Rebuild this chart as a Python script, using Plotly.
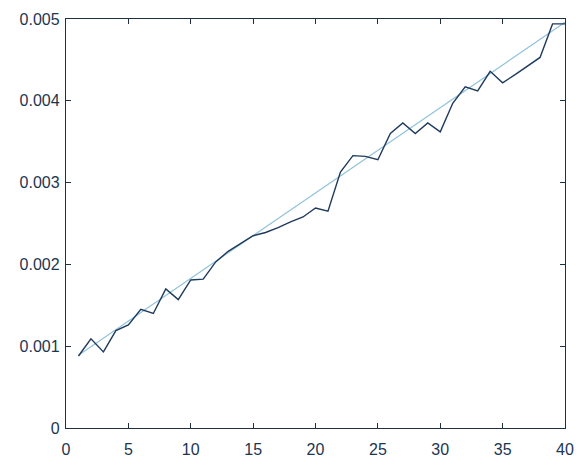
import plotly.graph_objects as go

x_vals = list(range(1, 41))
y_vals = [0.00088, 0.00109, 0.00093, 0.00119, 0.00126, 0.00145, 0.00140, 0.00170, 0.00157, 0.00181,
          0.00182, 0.00203, 0.00216, 0.00225, 0.00235, 0.00239, 0.00245, 0.00252, 0.00258, 0.00269,
          0.00265, 0.00313, 0.00333, 0.00332, 0.00328, 0.00360, 0.00373, 0.00360, 0.00373, 0.00362,
          0.00397, 0.00417, 0.00412, 0.00436, 0.00422, 0.00432, 0.00443, 0.00453, 0.00494, 0.00494]
trend_x = [1, 40]
trend_y = [0.00089, 0.00496]

x_ticks = [0, 5, 10, 15, 20, 25, 30, 35, 40]
y_ticks = [0, 0.001, 0.002, 0.003, 0.004, 0.005]
y_tick_labels = ["0", "0.001", "0.002", "0.003", "0.004", "0.005"]

fig = go.Figure()
fig.add_trace(go.Scatter(x=trend_x, y=trend_y, mode="lines",
                         line=dict(color="#93c3da", width=1.2), hoverinfo="skip"))
fig.add_trace(go.Scatter(x=x_vals, y=y_vals, mode="lines",
                         line=dict(color="#1d3a5e", width=1.4)))

axis_common = dict(showgrid=False, zeroline=False, showline=True, linecolor="#1f2f3f",
                   linewidth=1.3, mirror="ticks", ticks="inside", ticklen=5,
                   tickcolor="#1f2f3f", tickwidth=1,
                   tickfont=dict(family="Liberation Sans, Arial, sans-serif", size=16, color="#1d3550"))

fig.update_xaxes(range=[0, 40], tickvals=x_ticks, ticklabelstandoff=7, **axis_common)
fig.update_yaxes(range=[0, 0.005], tickvals=y_ticks, ticktext=y_tick_labels, ticklabelstandoff=2,
                 **axis_common)

fig.update_layout(width=583, height=467, showlegend=False,
                  plot_bgcolor="white", paper_bgcolor="white",
                  margin=dict(l=66, r=9, t=19, b=31))

fig.write_html("out.html", config={"displayModeBar": False},
               post_script="document.body.style.margin='0';document.body.style.overflow='hidden';")
